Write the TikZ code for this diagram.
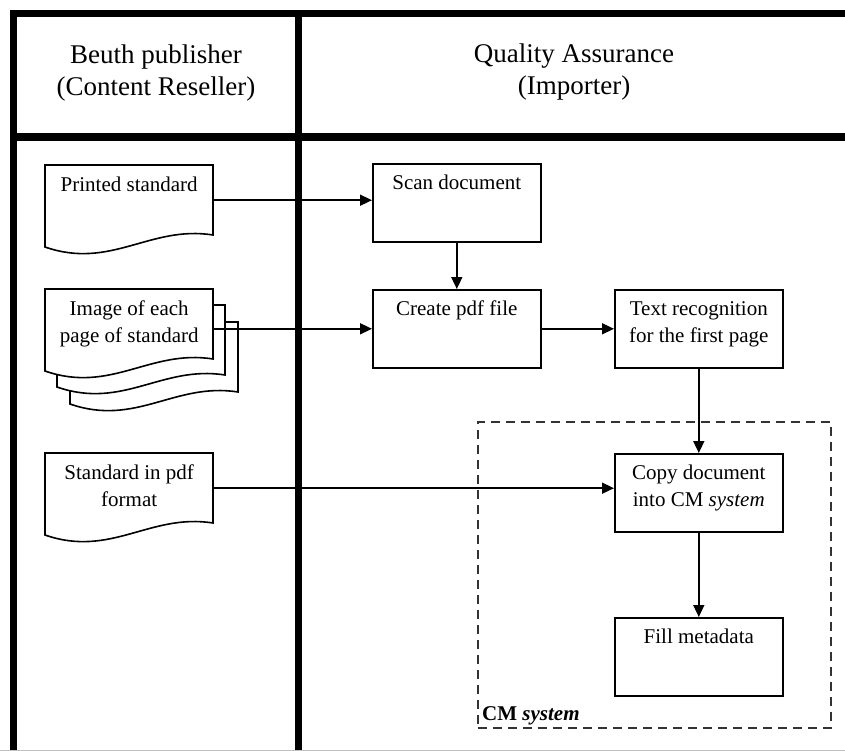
\documentclass[tikz,border=0pt]{standalone}
\usepackage{fontspec}
\setmainfont{Liberation Serif}
\usetikzlibrary{arrows.meta}
\newcommand{\bodyfont}{\fontsize{21}{27}\selectfont}
\newcommand{\headfont}{\fontsize{27}{32}\selectfont}
% text sits at the top of a box
\newcommand{\boxtxt}[2][78pt]{\parbox[t][#1][t]{166pt}{\centering\rule{0pt}{26pt}#2}}
% one sheet with a wavy bottom, top left corner at (#1,#2)
\newcommand{\docsheet}[2]{\filldraw[docline] (#1,#2)--(#1+168,#2)--(#1+168,#2+70) .. controls (#1+105,#2+60) and (#1+66,#2+105) .. (#1,#2+82)--cycle;}
\begin{document}
\begin{tikzpicture}[x=1pt,y=-1pt,
  frameline/.style={line width=7.5pt},
  boxline/.style={line width=1.6pt},
  docline/.style={boxline,fill=white},
  procbox/.style={draw,boxline,anchor=north west,inner sep=0pt,minimum width=168pt,minimum height=78pt,font=\bodyfont},
  docbox/.style={anchor=north west,inner sep=0pt,minimum width=168pt,minimum height=70pt,font=\bodyfont},
  cmframe/.style={draw=black!80,line width=1.5pt,dash pattern=on 9pt off 6pt,anchor=north west,inner sep=0pt,minimum width=353pt,minimum height=306pt},
  flow/.style={boxline,-{Triangle[length=12pt,width=11pt]}},
  lanehead/.style={align=center,font=\headfont}]
\useasboundingbox (0,0) rectangle (845,751);
% lanes
\draw[frameline] (845,13.5)--(13.5,13.5)--(13.5,751);
\draw[frameline] (13.5,137)--(845,137);
\draw[frameline] (298.5,13.5)--(298.5,751);
\draw[gray!50,line width=1pt] (0,750)--(845,750);
\node (beuth) at (156,73)[lanehead] {Beuth publisher\\(Content Reseller)};
\node (qa) at (574,72)[lanehead] {Quality Assurance\\(Importer)};
% documents
\docsheet{45}{165}
\docsheet{70}{322}
\docsheet{57}{305}
\docsheet{45}{289}
\docsheet{45}{453}
\node (printed) at (45,165)[docbox] {\boxtxt[70pt]{Printed standard}};
\node (image) at (45,289)[docbox] {\boxtxt[70pt]{Image of each\\page of standard}};
\node (stdpdf) at (45,453)[docbox] {\boxtxt[70pt]{Standard in pdf\\format}};
% CM system
\node (cm) at (477,421)[cmframe] {};
\node (cmlabel) at ([shift={(5,-3)}]cm.south west)[anchor=south west,inner sep=0pt,font=\bodyfont] {\textbf{CM \textit{system}}};
% steps
\node (scan) at (372,163)[procbox] {\boxtxt{Scan document}};
\node (create) at (372,289)[procbox] {\boxtxt{Create pdf file}};
\node (textrec) at (614,289)[procbox] {\boxtxt{Text recognition\\for the first page}};
\node (copy) at (614,453)[procbox] {\boxtxt{Copy document\\into CM \textit{system}}};
\node (fill) at (614,617)[procbox] {\boxtxt{Fill metadata}};
% flow
\draw[flow] (printed.east)--(printed.east -| scan.west);
\draw[flow] (scan.south)--(create.north);
\draw[flow] (image.east |- create.west)--(create.west);
\draw[flow] (create.east)--(textrec.west);
\draw[flow] (textrec.south)--(copy.north);
\draw[flow] (stdpdf.east)--(stdpdf.east -| copy.west);
\draw[flow] (copy.south)--(fill.north);
\end{tikzpicture}
\end{document}
